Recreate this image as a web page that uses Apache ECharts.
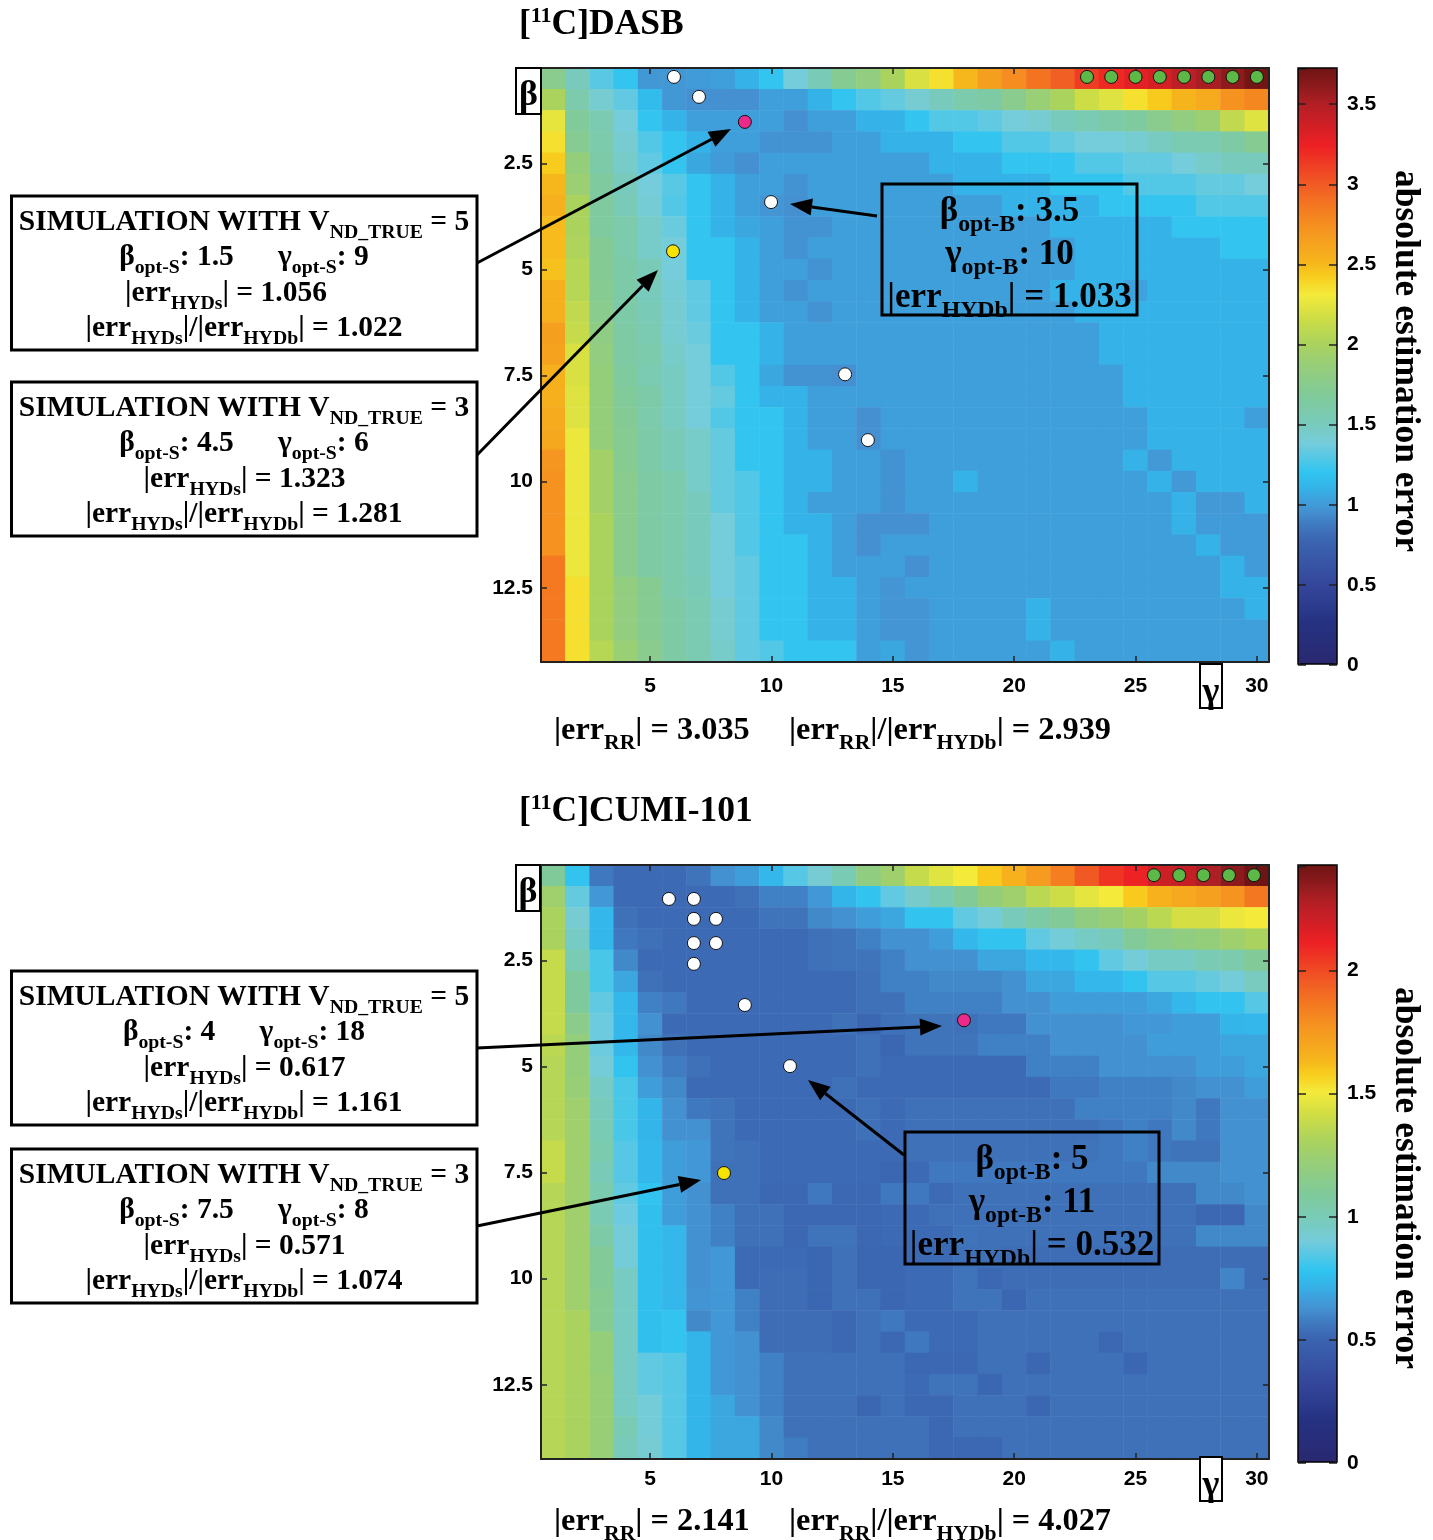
<!DOCTYPE html>
<html><head><meta charset="utf-8">
<script src="https://cdn.jsdelivr.net/npm/echarts@6/dist/echarts.min.js"></script>
<style>html,body{margin:0;padding:0;background:#fff}#c{width:1433px;height:1540px}</style>
</head><body><div id="c"></div>
<script>
const gammaValues=Array.from({length:30},(_,i)=>String(i+1));
const betaValues=Array.from({length:28},(_,i)=>String((i+1)/2));
const dasbErrors=[
[1.75,1.5,1.3,1.2,.98,.98,1,1.02,1.1,1.2,1.38,1.52,1.72,1.82,2,2.2,2.35,2.5,2.65,2.75,2.88,2.97,3.12,3.2,3.28,3.35,3.45,3.52,3.6,3.7],
[2,1.58,1.42,1.32,1.15,.98,.95,.95,.95,1.02,1.02,1.1,1.2,1.28,1.33,1.42,1.5,1.58,1.62,1.75,1.88,2,2.15,2.22,2.35,2.43,2.52,2.58,2.72,2.78],
[2.25,1.68,1.55,1.38,1.2,1.1,1.02,1.02,1.02,1.02,.95,1.02,1.02,1.1,1.1,1.2,1.28,1.28,1.32,1.38,1.42,1.5,1.55,1.6,1.65,1.75,1.82,1.9,2.1,2.22],
[2.35,1.72,1.58,1.42,1.28,1.2,1.1,1.02,1.02,.96,.96,.96,1.02,1.02,1.1,1.1,1.1,1.2,1.2,1.28,1.28,1.33,1.38,1.38,1.42,1.48,1.55,1.55,1.62,1.72],
[2.42,1.85,1.6,1.45,1.32,1.2,1.05,1,.95,1.02,1.02,1.02,1.02,1.02,1.02,1.02,1.1,1.1,1.1,1.2,1.2,1.2,1.28,1.28,1.33,1.33,1.38,1.45,1.5,1.5],
[2.5,1.9,1.65,1.5,1.38,1.3,1.2,1.1,1.02,1.02,.96,1.02,1.02,1.02,1.02,1.02,1.02,1.1,1.1,1.1,1.1,1.2,1.2,1.2,1.28,1.28,1.28,1.33,1.33,1.38],
[2.55,2,1.65,1.52,1.4,1.28,1.2,1.1,1.02,.97,.95,1.02,1.02,1.02,1.02,1.02,1.02,1.02,1.02,1.1,1.1,1.1,1.1,1.2,1.2,1.2,1.2,1.28,1.28,1.28],
[2.48,2,1.65,1.58,1.45,1.35,1.2,1.1,1.05,1.02,.96,.96,1.02,1.02,1.02,1.02,1.02,1.02,1.02,1.02,1.02,1.1,1.1,1.1,1.1,1.1,1.2,1.2,1.2,1.2],
[2.48,2.02,1.7,1.58,1.45,1.38,1.2,1.2,1.1,1.02,.96,1.02,1.02,1.02,1.02,1.02,1.02,1.02,1.02,1.02,1.02,1.02,1.1,1.1,1.1,1.1,1.1,1.1,1.2,1.2],
[2.46,2.05,1.7,1.6,1.52,1.38,1.2,1.2,1.1,1.02,1.02,.96,1.02,1.02,1.02,1.02,1.02,1.02,1.02,1.02,1.02,1.02,1.1,1.1,1.1,1.1,1.1,1.1,1.1,1.1],
[2.55,2.05,1.72,1.6,1.5,1.4,1.32,1.2,1.1,1.02,.96,1.02,1.02,1.02,1.02,1.02,1.02,1.02,1.02,1.02,1.02,1.1,1.1,1.1,1.03,1.1,1.1,1.1,1.1,1.1],
[2.55,2.1,1.75,1.6,1.52,1.42,1.32,1.2,1.1,1.02,1.02,.96,1.02,1.02,1.02,1.02,1.02,1.02,1.02,1.02,1.02,1.02,1.1,1.1,1.1,1.1,1.1,1.1,1.1,1.1],
[2.65,2.12,1.8,1.62,1.55,1.42,1.35,1.2,1.2,1.1,1.02,1.02,1.02,1.02,1.02,1.02,1.02,1.02,1.02,1.02,1.02,1.02,1.02,1.1,1.1,1.1,1.1,1.1,1.1,1.1],
[2.62,2.2,1.82,1.62,1.58,1.45,1.38,1.2,1.2,1.1,1.02,1.02,1.02,1.02,1.02,1.02,1.02,1.02,1.02,1.02,1.02,1.02,1.02,1.1,1.1,1.1,1.1,1.1,1.1,1.1],
[2.55,2.2,1.85,1.65,1.55,1.48,1.38,1.28,1.2,1.05,.96,.96,.95,1.02,1.02,1.02,1.02,1.02,1.02,1.02,1.02,1.02,1.02,1.02,1.1,1.1,1.1,1.1,1.1,1.1],
[2.55,2.22,1.85,1.68,1.6,1.48,1.38,1.33,1.2,1.1,1.1,1.02,1.02,1.02,1.02,1.02,1.02,1.02,1.02,1.02,1.02,1.02,1.02,1.02,1.1,1.1,1.1,1.1,1.1,1.1],
[2.58,2.22,1.85,1.7,1.58,1.48,1.38,1.28,1.2,1.2,1.1,1.02,1.02,.95,1.02,1.02,1.02,1.02,1.02,1.02,1.02,1.02,1.02,1.02,1.02,1.1,1.1,1.1,1.1,1.02],
[2.6,2.27,1.85,1.72,1.6,1.52,1.45,1.33,1.2,1.2,1.1,1.02,1.02,.95,1.02,1.02,1.02,1.02,1.02,1.02,1.02,1.02,1.02,1.02,1.02,1.1,1.1,1.1,1.1,1.1],
[2.7,2.27,1.95,1.72,1.6,1.52,1.45,1.33,1.2,1.2,1.1,1.1,1.02,1.02,.96,1.02,1.02,1.02,1.02,1.02,1.02,1.02,1.02,1.02,1.1,.99,1.1,1.1,1.1,1.1],
[2.72,2.27,1.95,1.75,1.62,1.58,1.45,1.33,1.28,1.2,1.1,1.1,1.02,1.02,.96,1.02,1.02,1.1,1.02,1.02,1.02,1.02,1.02,1.02,1.02,1.1,.99,1.1,1.1,1.1],
[2.72,2.27,1.95,1.75,1.62,1.58,1.5,1.33,1.28,1.2,1.1,1.02,1.02,1.02,.96,1.02,1.02,1.02,1.02,1.02,1.02,1.02,1.02,1.02,1.02,1.02,1.1,.99,.99,1.1],
[2.72,2.27,2,1.75,1.62,1.58,1.5,1.38,1.28,1.2,1.1,1.1,1.02,.95,.95,.95,1.02,1.02,1.02,1.02,1.02,1.02,1.02,1.02,1.02,1.02,1.1,1,1,1],
[2.72,2.27,2,1.75,1.62,1.58,1.5,1.38,1.28,1.2,1.2,1.1,1.02,.95,1.02,1.02,1.02,1.02,1.02,1.02,1.02,1.02,1.02,1.02,1.02,1.02,1.02,1.1,1,1],
[2.85,2.27,2,1.75,1.62,1.58,1.5,1.38,1.32,1.2,1.2,1.1,1.02,1.02,1.02,.95,1.02,1.02,1.02,1.02,1.02,1.02,1.02,1.02,1.02,1.02,1.02,1.02,1.1,1],
[2.85,2.35,2,1.82,1.72,1.58,1.52,1.38,1.32,1.2,1.2,1.1,1.1,1.02,.97,1.02,1.02,1.02,1.02,1.02,1.02,1.02,1.02,1.02,1.02,1.02,1.02,1.02,1.1,1.1],
[2.85,2.35,2,1.82,1.72,1.62,1.55,1.42,1.32,1.2,1.2,1.1,1.1,1.02,.97,.97,1.02,1.02,1.02,1.02,1.1,1.02,1.02,1.02,1.02,1.02,1.02,1.02,1.02,1.1],
[2.85,2.35,2,1.82,1.72,1.62,1.55,1.42,1.32,1.2,1.2,1.1,1.1,1.02,.97,.97,1.02,1.02,1.02,1.02,1.1,1.02,1.02,1.02,1.02,1.02,1.02,1.02,1.02,1.02],
[2.85,2.35,2.05,1.88,1.75,1.62,1.55,1.45,1.32,1.28,1.2,1.2,1.2,1.02,1.05,.97,1.02,1.02,1.02,1.02,1.02,1.1,1.02,1.02,1.02,1.02,1.02,1.02,1.02,1.02]
];
const cumiErrors=[
[1.09,.78,.56,.52,.52,.52,.55,.62,.66,.73,.84,.92,1,1.18,1.25,1.38,1.45,1.5,1.58,1.65,1.74,1.84,1.95,2.05,2.1,2.2,2.22,2.28,2.35,2.42],
[1.25,.87,.64,.52,.52,.52,.52,.52,.54,.58,.58,.64,.72,.78,.86,.94,1,1.1,1.2,1.25,1.35,1.4,1.46,1.5,1.58,1.65,1.68,1.72,1.76,1.86],
[1.3,.92,.73,.54,.52,.52,.52,.52,.52,.55,.55,.6,.62,.66,.68,.78,.78,.86,.9,.98,1.05,1.1,1.18,1.22,1.28,1.35,1.42,1.42,1.48,1.5],
[1.3,.95,.73,.56,.54,.52,.52,.52,.52,.52,.52,.54,.55,.58,.62,.62,.66,.73,.78,.78,.86,.9,.95,.98,1.1,1.15,1.18,1.2,1.25,1.3],
[1.38,1,.82,.6,.52,.52,.52,.52,.52,.52,.52,.54,.55,.55,.58,.62,.62,.62,.68,.68,.73,.73,.78,.86,.9,.95,.95,1,1.03,1.1],
[1.38,1.08,.82,.68,.54,.52,.52,.52,.52,.52,.52,.52,.52,.54,.58,.58,.6,.6,.6,.62,.68,.68,.73,.73,.78,.84,.84,.87,.9,.97],
[1.38,1.08,.86,.73,.58,.56,.52,.52,.52,.52,.52,.52,.52,.54,.54,.58,.58,.58,.58,.62,.62,.66,.66,.66,.66,.68,.73,.78,.78,.84],
[1.38,1.15,.88,.73,.62,.52,.52,.52,.52,.52,.52,.52,.54,.5,.54,.55,.55,.54,.56,.56,.62,.62,.62,.62,.64,.64,.66,.66,.72,.73],
[1.35,1.2,.88,.73,.6,.54,.52,.52,.52,.52,.52,.52,.52,.54,.5,.55,.55,.55,.58,.58,.58,.62,.62,.62,.62,.66,.66,.66,.68,.68],
[1.33,1.2,.9,.78,.62,.57,.54,.52,.52,.52,.52,.52,.52,.54,.52,.52,.52,.52,.52,.52,.58,.58,.58,.62,.62,.62,.62,.66,.66,.68],
[1.33,1.22,.95,.82,.66,.6,.52,.52,.52,.52,.52,.52,.54,.52,.52,.52,.52,.52,.52,.52,.52,.56,.56,.58,.58,.58,.6,.62,.62,.66],
[1.33,1.25,.98,.82,.72,.62,.56,.55,.52,.52,.52,.52,.52,.54,.52,.54,.54,.54,.54,.54,.54,.54,.58,.58,.58,.58,.6,.56,.62,.62],
[1.33,1.25,1,.82,.72,.62,.62,.55,.52,.52,.52,.52,.52,.54,.52,.54,.54,.54,.54,.54,.54,.54,.54,.56,.58,.56,.6,.56,.62,.62],
[1.38,1.25,1.02,.84,.73,.66,.64,.55,.54,.52,.52,.52,.52,.52,.52,.54,.54,.54,.54,.54,.54,.54,.55,.56,.58,.56,.55,.55,.62,.62],
[1.38,1.25,.99,.84,.73,.66,.64,.54,.54,.52,.52,.52,.52,.52,.5,.52,.56,.56,.56,.56,.56,.56,.56,.56,.56,.6,.6,.6,.62,.62],
[1.33,1.25,1.02,.86,.78,.66,.62,.54,.54,.51,.51,.56,.51,.51,.56,.56,.52,.54,.54,.54,.54,.54,.54,.54,.54,.54,.54,.6,.6,.62],
[1.33,1.25,1,.88,.76,.66,.62,.58,.54,.54,.51,.51,.51,.51,.52,.52,.54,.54,.54,.54,.54,.54,.54,.54,.54,.54,.54,.51,.51,.6],
[1.33,1.25,1.05,.9,.76,.73,.62,.58,.54,.54,.51,.55,.55,.51,.52,.52,.52,.55,.54,.54,.54,.54,.54,.54,.54,.54,.54,.6,.6,.6],
[1.33,1.25,1.1,.9,.76,.73,.62,.64,.52,.52,.52,.5,.54,.5,.5,.52,.52,.54,.54,.53,.53,.53,.53,.53,.53,.53,.53,.53,.53,.53],
[1.33,1.25,1.1,.96,.76,.73,.62,.64,.52,.53,.53,.5,.54,.5,.5,.52,.52,.55,.51,.53,.53,.53,.53,.53,.53,.53,.53,.53,.59,.53],
[1.33,1.25,1.12,.96,.76,.73,.63,.64,.58,.53,.53,.5,.54,.54,.5,.52,.52,.55,.55,.5,.54,.54,.54,.54,.54,.54,.54,.54,.54,.54],
[1.33,1.3,1.12,.96,.76,.78,.6,.64,.58,.53,.53,.53,.51,.54,.56,.52,.52,.52,.54,.54,.54,.54,.54,.54,.54,.54,.54,.54,.54,.54],
[1.33,1.3,1.2,.96,.76,.78,.72,.64,.62,.53,.53,.53,.51,.54,.51,.56,.52,.52,.54,.54,.54,.54,.54,.51,.54,.54,.54,.54,.54,.54],
[1.33,1.3,1.2,.96,.86,.84,.72,.64,.62,.58,.54,.54,.54,.54,.54,.51,.51,.51,.54,.54,.5,.54,.54,.54,.5,.54,.54,.54,.54,.54],
[1.33,1.3,1.22,.96,.86,.84,.72,.64,.62,.58,.54,.54,.54,.54,.54,.52,.55,.55,.5,.54,.54,.54,.54,.54,.54,.54,.54,.54,.54,.54],
[1.33,1.3,1.22,.96,.9,.84,.72,.68,.62,.58,.54,.54,.54,.5,.54,.51,.51,.54,.54,.54,.5,.54,.54,.54,.54,.54,.54,.54,.54,.54],
[1.33,1.3,1.22,1,.9,.84,.72,.68,.68,.6,.54,.54,.54,.54,.54,.54,.51,.54,.54,.54,.54,.54,.54,.54,.54,.54,.54,.54,.54,.54],
[1.33,1.3,1.22,.98,.92,.84,.72,.68,.68,.6,.57,.54,.54,.54,.54,.54,.51,.51,.51,.54,.54,.54,.54,.54,.54,.54,.54,.54,.54,.54]
];
const dasbWhite=[[5.98,.46],[7.01,.93],[9.98,3.41],[13.03,7.47],[13.97,9.02]];
const dasbPink=[[8.9,1.52]];
const dasbYellow=[[5.94,4.57]];
const dasbGreen=[[23,.46],[24,.46],[25,.46],[26,.46],[27,.46],[28,.46],[29,.46],[30,.46]];
const cumiWhite=[[5.77,1.05],[6.8,1.05],[6.8,1.52],[7.71,1.52],[6.8,2.09],[7.71,2.09],[6.8,2.58],[8.9,3.55],[10.76,4.99]];
const cumiPink=[[17.93,3.91]];
const cumiYellow=[[8.04,7.51]];
const cumiGreen=[[25.76,.49],[26.8,.49],[27.8,.49],[28.85,.49],[29.88,.49]];
const dasbMax=3.72, cumiMax=2.42;

const stops=[[0,'#2a2870'],[.07,'#253282'],[.134,'#35479b'],[.2,'#3a62ae'],[.215,'#3d6ab4'],[.225,'#3f72ba'],[.24,'#4080c4'],[.255,'#4490d0'],[.275,'#3fa0db'],[.295,'#35b3e8'],[.322,'#30c5f0'],[.345,'#53c7e6'],[.37,'#75ccdb'],[.404,'#78cbbb'],[.45,'#80ca9a'],[.5,'#96ce79'],[.536,'#a9d25f'],[.58,'#cedd45'],[.62,'#f4ea3a'],[.65,'#f8cd1e'],[.67,'#f6b81c'],[.72,'#f59a20'],[.76,'#f47e20'],[.805,'#f15a24'],[.87,'#ed2024'],[.92,'#c31f26'],[.94,'#b01f24'],[.97,'#8c1a1c'],[1,'#6e1414']];
function hex(c){return [1,3,5].map(i=>parseInt(c.substr(i,2),16));}
function ramp(n){const out=[];for(let i=0;i<n;i++){const f=i/(n-1);let k=0;while(k<stops.length-2&&stops[k+1][0]<f)k++;const a=stops[k],b=stops[k+1],t=(f-a[0])/(b[0]-a[0]),A=hex(a[1]),B=hex(b[1]);out.push('rgb('+A.map((v,j)=>Math.round(v+(B[j]-v)*t)).join(',')+')');}return out;}
const bandColors=ramp(201);

const SERIF='"Liberation Serif"', SANS='"Liberation Sans"';
const meas=document.createElement('canvas').getContext('2d');
function tokens(s){const re=/([_^])\{([^}]*)\}|([^_^]+)/g;let m,o=[];while((m=re.exec(s))){if(m[1])o.push({t:m[2],k:m[1]});else o.push({t:m[3],k:''});}return o;}
const G=[];
function richLine(x,base,size,s,anchor,subScale,subDy){
  const toks=tokens(s).map(t=>{const fs=t.k?size*(subScale||.67):size;const font='bold '+fs+'px '+SERIF;meas.font=font;return {...t,fs,font,w:meas.measureText(t.t).width};});
  const tot=toks.reduce((a,t)=>a+t.w,0);let cx=anchor==='left'?x:x-tot/2;
  toks.forEach(t=>{const dy=t.k==='_'?size*(subDy||.27):t.k==='^'?-size*.36:0;
    G.push({type:'text',z:100,silent:true,style:{text:t.t,x:cx,y:base+dy-.3375*t.fs,font:t.font,fill:'#000',align:'left',verticalAlign:'middle'}});cx+=t.w;});
}
function box(x,y,w,h,lw,fill){G.push({type:'rect',z:90,silent:true,shape:{x,y,width:w,height:h},style:{fill:fill||'transparent',stroke:'#000',lineWidth:lw}});}
function arrow(x1,y1,x2,y2){const a=Math.atan2(y2-y1,x2-x1),L=22,W=8.5,bx=x2-L*Math.cos(a),by=y2-L*Math.sin(a),nx=-Math.sin(a),ny=Math.cos(a);
  G.push({type:'line',z:95,silent:true,shape:{x1,y1,x2:bx,y2:by},style:{stroke:'#000',lineWidth:3}});
  G.push({type:'polygon',z:95,silent:true,shape:{points:[[x2,y2],[bx+nx*W,by+ny*W],[bx-nx*W,by-ny*W]]},style:{fill:'#000'}});}
function simBox(y,v,b,g,e1,e2,sp,line3x){
  box(11.5,y,465.5,154,3);
  richLine(244,y+36,29.5,'SIMULATION WITH V_{ND_TRUE} = '+v);
  richLine(244,y+71,29.5,'β_{opt-S}: '+b+sp+'γ_{opt-S}: '+g);
  richLine(line3x||244.5,y+107,29.5,'|err_{HYDs}| = '+e1);
  richLine(244,y+142,29.5,'|err_{HYDs}|/|err_{HYDb}| = '+e2);
}
function optBox(x,y,w,h,b,g,e){
  box(x,y,w,h,3);const c=x+w/2;
  richLine(c,y+40,35,'β_{opt-B}: '+b,'c',.68,.25);
  richLine(c,y+83,35,'γ_{opt-B}: '+g,'c',.68,.25);
  richLine(c,y+126,35,'|err_{HYDb}| = '+e,'c',.68,.25);
}
function sideBox(x,y,w,h,ch,fs,cy){box(x,y,w,h,2,'#fff');G.push({type:'text',z:100,silent:true,style:{text:ch,x:x+w/2,y:cy,font:'bold '+fs+'px '+SERIF,fill:'#000',align:'center',verticalAlign:'middle'}});}
function cbTitle(cy){G.push({type:'text',z:100,silent:true,rotation:-Math.PI/2,x:1405,y:cy,style:{text:'absolute estimation error',x:0,y:0,font:'bold 35.5px '+SERIF,fill:'#000',align:'center',verticalAlign:'middle'}});}

richLine(519,37,35.5,'[^{11}C]DASB','left',.62);
richLine(519,824,35.5,'[^{11}C]CUMI-101','left',.62);
simBox(196,5,'1.5','9','1.056','1.022','      ',226);
simBox(382,3,'4.5','6','1.323','1.281','      ');
simBox(971,5,'4','18','0.617','1.161','      ');
simBox(1149,3,'7.5','8','0.571','1.074','      ');
optBox(882,184,255,131,'3.5','10','1.033');
optBox(905,1132,254,132,'5','11','0.532');
richLine(554,742,32.3,'|err_{RR}| = 3.035','left');
richLine(789,742,32.3,'|err_{RR}|/|err_{HYDb}| = 2.939','left');
richLine(554,1533,32.3,'|err_{RR}| = 2.141','left');
richLine(789,1533,32.3,'|err_{RR}|/|err_{HYDb}| = 4.027','left');
arrow(477,263,731,129);arrow(477,455,658,270);arrow(877,216,790,204);
arrow(477,1048,942,1026);arrow(477,1226,701,1180);arrow(904,1155,808,1080);
sideBox(516,68,25,46,'β',36,96);sideBox(516,865,24,46,'β',36,893);
sideBox(1200,664,22,44,'γ',36,693);sideBox(1200,1457,22,44,'γ',36,1486);
cbTitle(361);cbTitle(1178);
box(1298,68,39,596,1.5);box(1298,865,39,597,1.5);

const tickFont={fontFamily:SANS,fontWeight:'bold',fontSize:21,color:'#000'};
const line={show:true,lineStyle:{color:'#222',width:2}};
const tick={show:true,inside:true,length:6,lineStyle:{color:'#222',width:1.5}};
const xSel=(i,v)=>+v%5===0, ySel=(i,v)=>+v%2.5===0;
const grids=[{left:541,top:68,width:728,height:594},{left:541,top:865,width:728,height:594},{left:1298,top:69,width:39,height:596},{left:1298,top:867,width:39,height:596}];
const xAxis=[],yAxis=[];
[0,1].forEach(g=>{
  xAxis.push({gridIndex:g,z:5,type:'category',data:gammaValues,position:'bottom',axisLine:line,axisTick:{...tick,alignWithLabel:true,interval:xSel},axisLabel:{...tickFont,interval:xSel,margin:g?10:14},splitLine:{show:false}});
  xAxis.push({gridIndex:g,z:5,type:'category',data:gammaValues,position:'top',axisLine:line,axisTick:{...tick,alignWithLabel:true,interval:xSel},axisLabel:{show:false},splitLine:{show:false}});
  xAxis.push({gridIndex:g,type:'value',min:.5,max:30.5,show:false});
  yAxis.push({gridIndex:g,z:5,type:'category',data:betaValues,inverse:true,position:'left',axisLine:line,axisTick:{...tick,alignWithLabel:true,interval:ySel},axisLabel:{...tickFont,interval:ySel,margin:8},splitLine:{show:false}});
  yAxis.push({gridIndex:g,z:5,type:'category',data:betaValues,inverse:true,position:'right',axisLine:line,axisTick:{...tick,alignWithLabel:true,interval:ySel},axisLabel:{show:false},splitLine:{show:false}});
  yAxis.push({gridIndex:g,type:'value',inverse:true,min:.25,max:14.25,show:false});
});
[[2,dasbMax],[3,cumiMax]].forEach(([g,mx])=>{
  xAxis.push({gridIndex:g,type:'value',show:false,min:0,max:1});
  yAxis.push({gridIndex:g,z:6,type:'value',min:0,max:mx,interval:.5,position:'left',axisLine:{show:false},axisTick:{...tick,inside:true,length:8},axisLabel:{show:false},splitLine:{show:false}});
  yAxis.push({gridIndex:g,z:6,type:'value',min:0,max:mx,interval:.5,position:'right',axisLine:{show:false},axisTick:{...tick,inside:true,length:8},axisLabel:{...tickFont,margin:10,formatter:v=>String(v),showMaxLabel:false},splitLine:{show:false}});
});
function cells(m){const o=[];m.forEach((r,y)=>r.forEach((v,x)=>o.push([x,y,v])));return o;}
function dots(g,d,color){return {type:'scatter',xAxisIndex:g*3+2,yAxisIndex:g*3+2,data:d,symbolSize:13,z:10,clip:false,silent:true,itemStyle:{color,opacity:1,borderColor:'#111',borderWidth:1}};}
const series=[
 {type:'heatmap',xAxisIndex:0,yAxisIndex:0,data:cells(dasbErrors),silent:true,progressive:0,z:2},
 {type:'heatmap',xAxisIndex:3,yAxisIndex:3,data:cells(cumiErrors),silent:true,progressive:0,z:2},
 dots(0,dasbWhite,'#fff'),dots(0,dasbPink,'#ec2a8a'),dots(0,dasbYellow,'#f7e300'),dots(0,dasbGreen,'#5cb947'),
 dots(1,cumiWhite,'#fff'),dots(1,cumiPink,'#ec2a8a'),dots(1,cumiYellow,'#f7e300'),dots(1,cumiGreen,'#5cb947')
];
function vm(idx,mx,top,h){return {type:'continuous',seriesIndex:idx,min:0,max:mx,orient:'vertical',left:1298,top,padding:0,itemWidth:39,itemHeight:h,calculable:false,realtime:false,text:['',''],showLabel:false,hoverLink:false,inRange:{color:bandColors},z:4};}
const chart=echarts.init(document.getElementById('c'),null,{renderer:'canvas'});
chart.setOption({animation:false,backgroundColor:'#fff',grid:grids,xAxis,yAxis,
  visualMap:[vm(0,dasbMax,68,596),vm(1,cumiMax,865,597)],series,graphic:{elements:G}});
</script></body></html>
